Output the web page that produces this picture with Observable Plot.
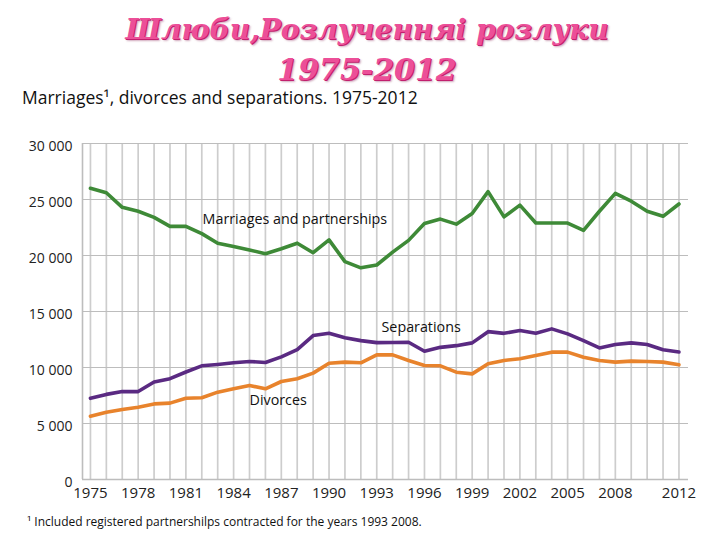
<!DOCTYPE html>
<html>
<head>
<meta charset="utf-8">
<script src="https://cdn.jsdelivr.net/npm/d3@7"></script>
<script src="https://cdn.jsdelivr.net/npm/@observablehq/plot@0.6"></script>
<style>
  html, body { margin: 0; padding: 0; background: #fff; }
  body { width: 720px; height: 540px; overflow: hidden; }
  #title { height: 85px; padding-top: 10px; box-sizing: border-box; text-align: center; padding-left: 14px;
    font-family: "DejaVu Serif", serif; font-weight: bold; font-style: italic; font-size: 28px; line-height: 40px;
    color: #ec4f98; text-shadow: 1px 1px 0 #c21f6e, 2px 2px 2px rgba(120,0,60,0.35); }
  #title .l2 { font-size: 30px; }
  #subtitle { height: 25px; line-height: 25px; padding-left: 22px; font-family: "Open Sans", sans-serif; font-size: 17.5px; color: #111; }
  #chart svg { display: block; }
  #foot { height: 35px; line-height: 34px; padding-left: 27px; font-family: "Open Sans", sans-serif; font-size: 12px; color: #111; }
</style>
</head>
<body>
<div id="title">Шлюби,Розлученняі розлуки<br><span class="l2">1975-2012</span></div>
<div id="subtitle">Marriages¹, divorces and separations. 1975-2012</div>
<div id="chart"></div>
<div id="foot">¹ Included registered partnershilps contracted for the years 1993 2008.</div>
<script>
const years = d3.range(1975, 2013);
const marriages = [26000, 25600, 24300, 23950, 23400, 22600, 22600, 21950, 21100, 20800, 20500, 20150, 20600, 21100, 20250, 21400, 19450, 18900, 19150, 20300, 21350, 22850, 23250, 22800, 23750, 25700, 23450, 24500, 22900, 22900, 22900, 22250, 23950, 25550, 24850, 23950, 23500, 24600];
const separations = [7250, 7600, 7850, 7850, 8700, 9000, 9600, 10150, 10270, 10420, 10540, 10450, 10950, 11600, 12850, 13050, 12650, 12400, 12220, 12230, 12250, 11450, 11800, 11950, 12200, 13200, 13050, 13300, 13050, 13450, 13000, 12400, 11750, 12050, 12200, 12050, 11580, 11380];
const divorces = [5650, 6000, 6250, 6450, 6750, 6820, 7250, 7300, 7800, 8100, 8400, 8100, 8750, 9000, 9500, 10380, 10480, 10420, 11130, 11130, 10630, 10180, 10150, 9580, 9430, 10330, 10630, 10780, 11070, 11370, 11370, 10920, 10630, 10480, 10570, 10540, 10480, 10240];
const xTicks = [1975, 1978, 1981, 1984, 1987, 1990, 1993, 1996, 1999, 2002, 2005, 2008, 2012];
const yTicks = [0, 5000, 10000, 15000, 20000, 25000, 30000];
const labels = [
  {year: 1982.05, value: 23250, text: "Marriages and partnerships"},
  {year: 1993.3, value: 13600, text: "Separations"},
  {year: 1985.0, value: 7050, text: "Divorces"}
];

const rows = (vals, series) => years.map((y, i) => ({year: y, value: vals[i], series}));
const data = [...rows(marriages, "m"), ...rows(separations, "s"), ...rows(divorces, "d")];
const colors = {m: "#3e8a37", s: "#5a2a82", d: "#e8832c"};
const fmt = d => d3.format(",")(d).replace(/,/g, " ");

const chart = Plot.plot({
  width: 720,
  height: 395,
  marginTop: 33,
  marginBottom: 26,
  marginLeft: 82,
  marginRight: 32,
  style: {fontFamily: "Open Sans, sans-serif", fontSize: "14px", color: "#222", background: "#fff"},
  x: {domain: [1974.5, 2012.6]},
  y: {domain: [0, 30000]},
  marks: [
    Plot.ruleX(years, {stroke: "#cdcdcd", strokeWidth: 1.7}),
    Plot.ruleY(yTicks, {stroke: "#bdbdbd", strokeWidth: 1.2}),
    Plot.ruleX([1974.5], {stroke: "#bdbdbd", strokeWidth: 1.6}),
    Plot.ruleY([0], {stroke: "#bdbdbd", strokeWidth: 1.6}),
    Plot.line(data, {x: "year", y: "value", z: "series", stroke: d => colors[d.series], strokeWidth: 3.6, strokeLinejoin: "round"}),
    Plot.text(labels, {x: "year", y: "value", text: "text", textAnchor: "start", fontSize: 14.3, fill: "#111"}),
    Plot.axisX({ticks: xTicks, tickFormat: d => String(d), tickSize: 0, tickPadding: 8, fontSize: 15, label: null}),
    Plot.axisY({ticks: yTicks, tickFormat: fmt, tickSize: 0, tickPadding: 10, label: null, dy: 3})
  ]
});
document.getElementById("chart").appendChild(chart);
</script>
</body>
</html>
